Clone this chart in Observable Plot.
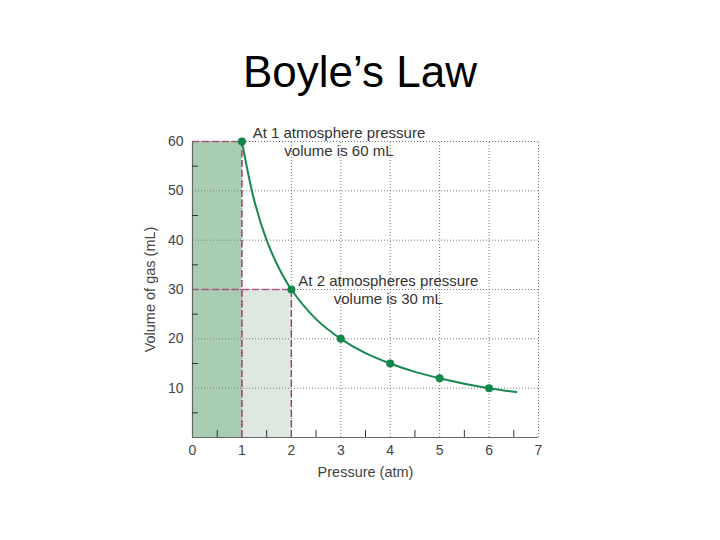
<!DOCTYPE html>
<html>
<head>
<meta charset="utf-8">
<script src="https://cdn.jsdelivr.net/npm/d3@7"></script>
<script src="https://cdn.jsdelivr.net/npm/@observablehq/plot@0.6"></script>
<style>
  html, body { margin: 0; padding: 0; background: #fff; }
  #title { height: 110px; box-sizing: border-box; padding-top: 50px; text-align: center;
           font: 44px/44px "Liberation Sans", Arial, sans-serif; color: #000; }
  #chart svg { display: block; }
</style>
</head>
<body>
<div id="title">Boyle’s Law</div>
<div id="chart"></div>
<script>
// Data
const pressure = [1, 2, 3, 4, 5, 6];
const volume = [60, 30, 20, 15, 12, 10];
const curvePressure = [1, 1.25, 1.5, 1.75, 2, 2.5, 3, 3.5, 4, 4.5, 5, 5.5, 6, 6.55];
const curveVolume = [60, 48, 40, 34.3, 30, 24, 20, 17.1, 15, 13.3, 12, 10.9, 10, 9.2];
const highlightPressure = [1, 2];
const highlightVolume = [60, 30];
const annotations = ["At 1 atmosphere pressure\nvolume is 60 mL", "At 2 atmospheres pressure\nvolume is 30 mL"];
const xTicks = [0, 1, 2, 3, 4, 5, 6, 7];
const xMinorTicks = [0.5, 1.5, 2.5, 3.5, 4.5, 5.5, 6.5];
const yTicks = [10, 20, 30, 40, 50, 60];
const yMinorTicks = [5, 15, 25, 35, 45, 55];
const xLabel = "Pressure (atm)";
const yLabel = "Volume of gas (mL)";

const points = pressure.map((p, i) => ({p, v: volume[i]}));
const curve = curvePressure.map((p, i) => ({p, v: curveVolume[i]}));
const highlights = highlightPressure.map((p, i) => ({p, v: highlightVolume[i], label: annotations[i], i}));
const rectFill = ["#a9cdb1", "#dde9e0"];

const font = '"Liberation Sans", Arial, sans-serif';
const plot = Plot.plot({
  width: 720,
  height: 430,
  marginTop: 31,
  marginBottom: 103,
  marginLeft: 192,
  marginRight: 182,
  style: {fontFamily: font, background: "#fff"},
  x: {domain: [0, 7]},
  y: {domain: [0, 60]},
  marks: [
    // shaded rectangles (light first, dark on top)
    Plot.rect(highlights.slice().reverse(), {x1: 0, x2: "p", y1: 0, y2: "v", fill: d => rectFill[d.i]}),
    // dotted grid
    Plot.ruleX(xTicks.slice(1), {y1: 0, y2: 60, stroke: "#777", strokeDasharray: "1,2", strokeWidth: 1}),
    Plot.ruleY(yTicks, {x1: 0, x2: 7, stroke: "#777", strokeDasharray: "1,2", strokeWidth: 1}),
    // dashed guide lines
    Plot.ruleX(highlights, {x: "p", y1: 0, y2: "v", stroke: "#a8336f", strokeDasharray: "7,3", strokeWidth: 1.4}),
    Plot.ruleY(highlights, {y: "v", x1: 0, x2: "p", stroke: "#a8336f", strokeOpacity: 0.75, strokeDasharray: "7,3", strokeWidth: 1.3}),
    // axis lines
    Plot.ruleX([0], {y1: 0, y2: 60, stroke: "#666", strokeWidth: 1.2}),
    Plot.ruleY([0], {x1: 0, x2: 7, stroke: "#666", strokeWidth: 1.2}),
    // axes
    Plot.axisX({ticks: xTicks, tickSize: 0, tickPadding: 8, tickFormat: d3.format("d"), fontSize: 14, fill: "#444", label: null}),
    Plot.axisX({ticks: xMinorTicks, tickSize: -7, tickFormat: () => "", stroke: "#333", label: null}),
    Plot.axisY({ticks: yTicks, tickSize: 0, tickPadding: 9, tickFormat: d3.format("d"), fontSize: 14, fill: "#444", label: null}),
    Plot.axisY({ticks: yMinorTicks, tickSize: -6, tickFormat: () => "", stroke: "#333", label: null}),
    Plot.text([xLabel], {frameAnchor: "bottom", dy: 35, text: d => d, fontSize: 14.5, fill: "#444", textAnchor: "middle", lineAnchor: "middle"}),
    Plot.text([yLabel], {frameAnchor: "left", dx: -42, rotate: -90, text: d => d, fontSize: 14.5, fill: "#444", textAnchor: "middle", lineAnchor: "middle"}),
    // curve and points
    Plot.line(curve, {x: "p", y: "v", curve: "catmull-rom", stroke: "#17894f", strokeWidth: 2}),
    Plot.dot(points, {x: "p", y: "v", r: 4, fill: "#11874b"}),
    // annotations
    Plot.text(highlights, {x: "p", y: "v", text: "label", dx: 97, fontSize: 15, fill: "#333",
      textAnchor: "middle", lineAnchor: "middle", lineHeight: 1.15})
  ]
});
document.getElementById("chart").appendChild(plot);
</script>
</body>
</html>
